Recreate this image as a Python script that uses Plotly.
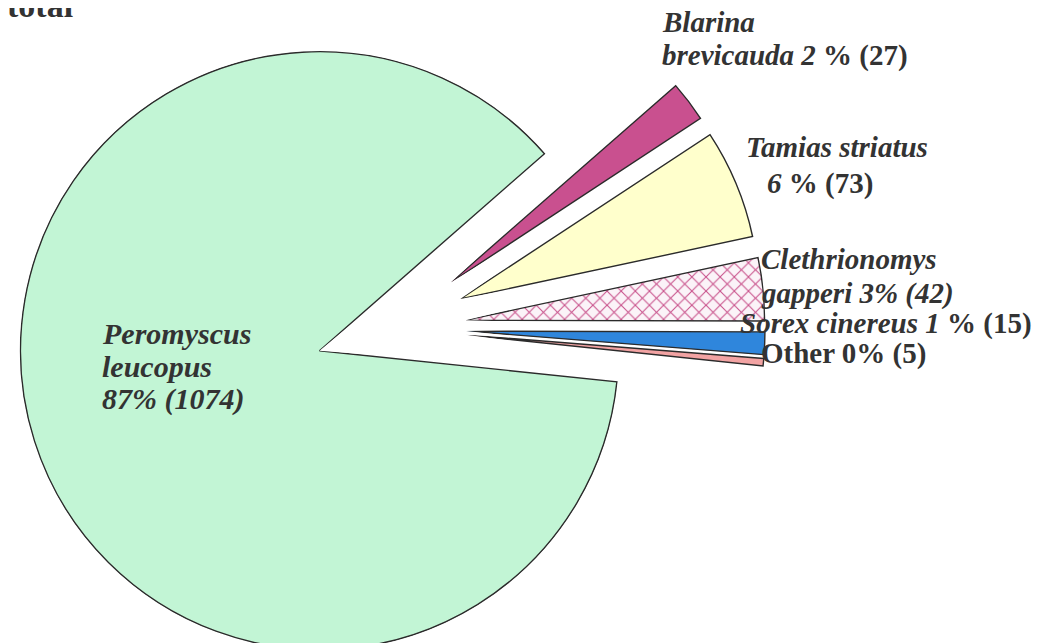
import math
import plotly.graph_objects as go

# ---------------- data ----------------
species = ["Blarina brevicauda", "Tamias striatus", "Clethrionomys gapperi",
           "Sorex cinereus", "Other", "Peromyscus leucopus"]
counts = [27, 73, 42, 15, 5, 1074]
colors = ["#C9508F", "#FFFFCC", "#FBF3F8", "#2F86DC", "#F2A3A3", "#C2F5D5"]
title_text = "total"

total = sum(counts)
pcts = [round(c / total * 100) for c in counts]

# ---------------- layout constants ----------------
W, H = 1054, 643
R = 299            # pie radius (px)
CX, CY = 383, 320  # pie centre (px)
PULL = 75          # explode distance (px)
START = 41.2       # start angle (deg, math convention), slices go clockwise
APAD = 1.5         # angular padding of each sector (deg)


def sector_bbox(a0, a1):
    pts = [(0.0, 0.0),
           (math.cos(math.radians(a0)), math.sin(math.radians(a0))),
           (math.cos(math.radians(a1)), math.sin(math.radians(a1)))]
    k = math.ceil(a0 / 90.0)
    while k * 90 <= a1:
        pts.append((math.cos(math.radians(k * 90)), math.sin(math.radians(k * 90))))
        k += 1
    xs = [p[0] for p in pts]
    ys = [p[1] for p in pts]
    return min(xs), min(ys), max(xs), max(ys)


fig = go.Figure()
layout_polars = {}
a_hi = START
for i, (name, c, col) in enumerate(zip(species, counts, colors)):
    span = c / total * 360.0
    a_lo = a_hi - span
    mid = (a_hi + a_lo) / 2.0
    vx = CX + PULL * math.cos(math.radians(mid))
    vy = CY - PULL * math.sin(math.radians(mid))
    rp = 1.004 if span > 180 else 1.02
    s0, s1 = a_lo - APAD, a_hi + APAD
    x0, y0, x1, y1 = sector_bbox(s0, s1)
    Ra = R * rp
    left, right = vx + Ra * x0, vx + Ra * x1
    top, bottom = vy - Ra * y1, vy - Ra * y0
    dom = dict(x=[max(0.0, left / W), min(1.0, right / W)],
               y=[max(0.0, 1 - bottom / H), min(1.0, 1 - top / H)])
    key = "polar" if i == 0 else f"polar{i + 1}"
    marker = dict(color=col, line=dict(color="#2b2b2b", width=1.4))
    if name.startswith("Clethrionomys"):
        marker["pattern"] = dict(shape="x", fgcolor="#C8508A", bgcolor="#FBF3F8",
                                 size=10, solidity=0.2)
    fig.add_trace(go.Barpolar(r=[1], theta=[mid], width=[span], marker=marker,
                              subplot=key, name=name, hoverinfo="name"))
    layout_polars[key] = dict(
        domain=dom, sector=[s0, s1], hole=0, bgcolor="rgba(0,0,0,0)",
        radialaxis=dict(visible=False, range=[0, rp]),
        angularaxis=dict(visible=False, direction="counterclockwise", rotation=0),
    )
    a_hi = a_lo

fig.update_layout(**layout_polars)

# ---------------- labels ----------------
FS = 29
FONT = "Liberation Serif, Times New Roman, serif"
TXT = "#333333"
DX, DY = -11, -8


def lab(x, base, html, fs=FS):
    fig.add_annotation(x=(x + DX) / W, y=1 - (base + DY - 0.32 * fs) / H,
                       xref="paper", yref="paper",
                       xanchor="left", yanchor="middle", showarrow=False,
                       text=f"<b>{html}</b>", align="left",
                       font=dict(family=FONT, size=fs, color=TXT))


g = {n: n.split(" ") for n in species}
cnt = dict(zip(species, counts))
pc = dict(zip(species, pcts))

b = species[0]
lab(663, 31, f"<i>{g[b][0]}</i>")
lab(663, 65, f"<i>{g[b][1]} {pc[b]}</i> % ({cnt[b]})")
t = species[1]
lab(747, 156, f"<i>{t}</i>")
lab(768, 193, f"<i>{pc[t]}</i> % ({cnt[t]})")
cl = species[2]
lab(762, 268, f"<i>{g[cl][0]}</i>")
lab(762, 303, f"<i>{g[cl][1]} {pc[cl]}% ({cnt[cl]})</i>")
s = species[3]
lab(741, 333, f"<i>{s} {pc[s]}</i> % ({cnt[s]})")
o = species[4]
lab(762, 363, f"{o} {pc[o]}% ({cnt[o]})")
p = species[5]
lab(103, 343, f"<i>{g[p][0]}</i>", 30)
lab(103, 376, f"<i>{g[p][1]}</i>", 30)
lab(103, 409, f"<i>{pc[p]}% ({cnt[p]})</i>", 30)

lab(8, 16, title_text, 34)

fig.update_layout(width=W, height=H, margin=dict(l=0, r=0, t=0, b=0),
                  paper_bgcolor="white", plot_bgcolor="white",
                  showlegend=False, template="none")

fig.write_html("out.html")
